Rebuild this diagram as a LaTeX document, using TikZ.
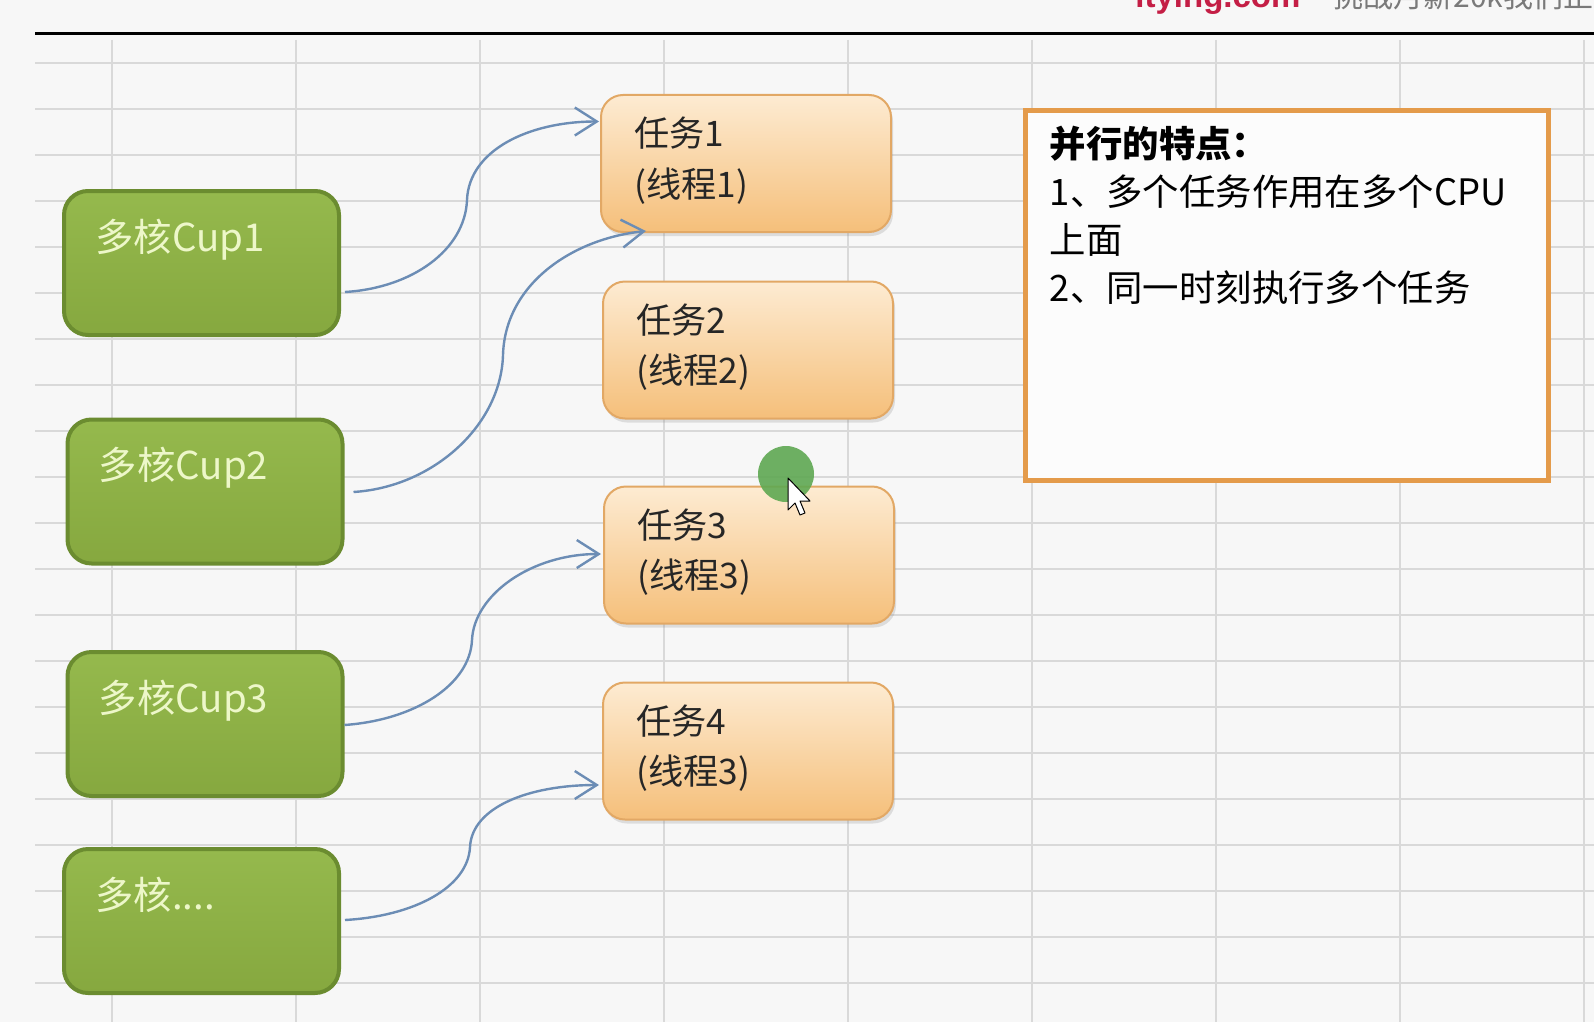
\documentclass[tikz,border=0pt]{standalone}
\usepackage{fontspec}
\setmainfont{Noto Sans CJK SC}
\newfontfamily\brandfont{Liberation Sans}
\usetikzlibrary{calc,arrows.meta,shadows}

\definecolor{bg}{HTML}{F7F7F7}
\definecolor{gridc}{HTML}{D9D9D9}
\definecolor{cputop}{HTML}{95B94D}
\definecolor{cpubot}{HTML}{86A83F}
\definecolor{cpuedge}{HTML}{6B8C30}
\definecolor{cputext}{HTML}{EDF7C9}
\definecolor{tasktop}{HTML}{FDEBD2}
\definecolor{taskbot}{HTML}{F5BF7A}
\definecolor{taskedge}{HTML}{E2A865}
\definecolor{tasktext}{HTML}{262626}
\definecolor{linkblue}{HTML}{6C8DB5}
\definecolor{noteedge}{HTML}{E49B4B}
\definecolor{notefill}{HTML}{FCFCFC}
\definecolor{brandred}{HTML}{C41E45}
\definecolor{slogangray}{HTML}{7A7A7A}
\definecolor{cursorgreen}{HTML}{5FA852}

\tikzset{
  gridline/.style={draw=gridc, line width=0.75pt},
  cpubox/.style={draw=cpuedge, line width=2pt, rounded corners=12pt,
    top color=cputop, bottom color=cpubot,
    minimum width=137.5pt, minimum height=72pt, inner sep=0pt},
  cpulabel/.style={anchor=base west, inner sep=0pt, text=cputext,
    font=\fontsize{19.2}{22}\selectfont},
  taskbox/.style={draw=taskedge, line width=1pt, rounded corners=11pt,
    top color=tasktop, bottom color=taskbot,
    minimum width=145pt, minimum height=68.5pt, inner sep=0pt,
    drop shadow={opacity=0.22, shadow xshift=1pt, shadow yshift=-2pt}},
  tasklabel/.style={anchor=base west, inner sep=0pt, text=tasktext,
    font=\fontsize{17.6}{21}\selectfont},
  notebox/.style={draw=noteedge, line width=2.5pt, fill=notefill,
    minimum width=261.5pt, minimum height=184.5pt, inner sep=0pt},
  noteline/.style={anchor=base west, inner sep=0pt, text=black,
    font=\fontsize{18.2}{24}\selectfont},
  link/.style={draw=linkblue, line width=1.2pt,
    -{Straight Barb[length=11pt,width=14pt]}},
}

\begin{document}
\begin{tikzpicture}[x=0.5pt,y=-0.5pt]
  % page and background
  \useasboundingbox (0,0) rectangle (1594,1022);
  \clip (0,0) rectangle (1594,1022);
  \fill[bg] (0,0) rectangle (1594,1022);

  % header strip (cut off at the top edge)
  \node[anchor=base west, inner sep=0pt, text=brandred,
        font=\brandfont\bfseries\fontsize{16.5}{20}\selectfont] (brand) at (1135,8) {itying.com};
  \node[anchor=base west, inner sep=0pt, text=slogangray,
        font=\fontsize{15}{18}\selectfont] (slogan) at (1333,8) {挑战月薪20k我们正在行动};
  \draw[line width=1.5pt, black] (35,34) -- (1594,34);

  % spreadsheet grid
  \foreach \gx in {112,296,...,1594}
    \draw[gridline] (\gx,40) -- (\gx,1022);
  \foreach \gy in {63,109,...,1022}
    \draw[gridline] (35,\gy) -- (1594,\gy);

  % CPU cores
  \node[cpubox] (c1) at (201.5,263) {};
  \node[cpubox] (c2) at (205,491.5) {};
  \node[cpubox] (c3) at (205,724) {};
  \node[cpubox] (c4) at (201.5,921) {};
  \node[cpulabel] (c1t) at ($(c1.north west)+(33,62)$) {多核Cup1};
  \node[cpulabel] (c2t) at ($(c2.north west)+(33,62)$) {多核Cup2};
  \node[cpulabel] (c3t) at ($(c3.north west)+(33,62)$) {多核Cup3};
  \node[cpulabel] (c4t) at ($(c4.north west)+(33,62)$) {多核....};

  % tasks
  \node[taskbox] (t1) at (746,163.5) {};
  \node[taskbox] (t2) at (748,350) {};
  \node[taskbox] (t3) at (749,555) {};
  \node[taskbox] (t4) at (748,751) {};
  \node[tasklabel] (t1a) at ($(t1.north west)+(34,53)$) {任务1};
  \node[tasklabel] (t1b) at ($(t1.north west)+(34,103)$) {(线程1)};
  \node[tasklabel] (t2a) at ($(t2.north west)+(34,53)$) {任务2};
  \node[tasklabel] (t2b) at ($(t2.north west)+(34,103)$) {(线程2)};
  \node[tasklabel] (t3a) at ($(t3.north west)+(34,53)$) {任务3};
  \node[tasklabel] (t3b) at ($(t3.north west)+(34,103)$) {(线程3)};
  \node[tasklabel] (t4a) at ($(t4.north west)+(34,53)$) {任务4};
  \node[tasklabel] (t4b) at ($(t4.north west)+(34,103)$) {(线程3)};

  % connectors: core -> task
  \coordinate (s1) at ($(c1.east)+(4,29)$);
  \coordinate (e1) at ($(t1.west)+(-1,-42)$);
  \coordinate (m1) at (467,200);
  \draw[link] (s1) .. controls +(67,-4) and +(-2,50) .. (m1)
                   .. controls +(2,-50) and +(-70,0) .. (e1);

  \coordinate (s2) at ($(c2.east)+(9,0.5)$);
  \coordinate (e2) at ($(t1.south west)+(46,-2)$);
  \coordinate (m2) at (503,355);
  \draw[link] (s2) .. controls +(80,-5) and +(-2,70) .. (m2)
                   .. controls +(2,-70) and +(-75,8) .. (e2);

  \coordinate (s3) at ($(c3.east)+(0,1)$);
  \coordinate (e3) at ($(t3.west)+(-2,-1)$);
  \coordinate (m3) at (472,640);
  \draw[link] (s3) .. controls +(70,-5) and +(-2,45) .. (m3)
                   .. controls +(2,-45) and +(-70,0) .. (e3);

  \coordinate (s4) at ($(c4.east)+(4,-1)$);
  \coordinate (e4) at ($(t4.west)+(-3,34)$);
  \coordinate (m4) at (470,847);
  \draw[link] (s4) .. controls +(70,-4) and +(-2,40) .. (m4)
                   .. controls +(2,-40) and +(-70,0) .. (e4);

  % notes on parallelism
  \node[notebox] (nb) at (1286.5,295.5) {};
  \node[noteline, font=\bfseries\fontsize{18.2}{24}\selectfont] (n0) at ($(nb.north west)+(27,49)$) {并行的特点：};
  \node[noteline] (n1) at ($(nb.north west)+(27,97)$) {1、多个任务作用在多个CPU};
  \node[noteline] (n2) at ($(nb.north west)+(27,145)$) {上面};
  \node[noteline] (n3) at ($(nb.north west)+(27,193)$) {2、同一时刻执行多个任务};

  % mouse pointer with click highlight
  \fill[cursorgreen, opacity=0.9] (786,474) circle[radius=14pt];
  \draw[black, line width=0.5pt, fill=white, line join=round]
    (788,478) -- ++(0,32) -- ++(7,-7) -- ++(5,12) -- ++(5,-2) -- ++(-5,-12) -- ++(10,0) -- cycle;
\end{tikzpicture}
\end{document}
